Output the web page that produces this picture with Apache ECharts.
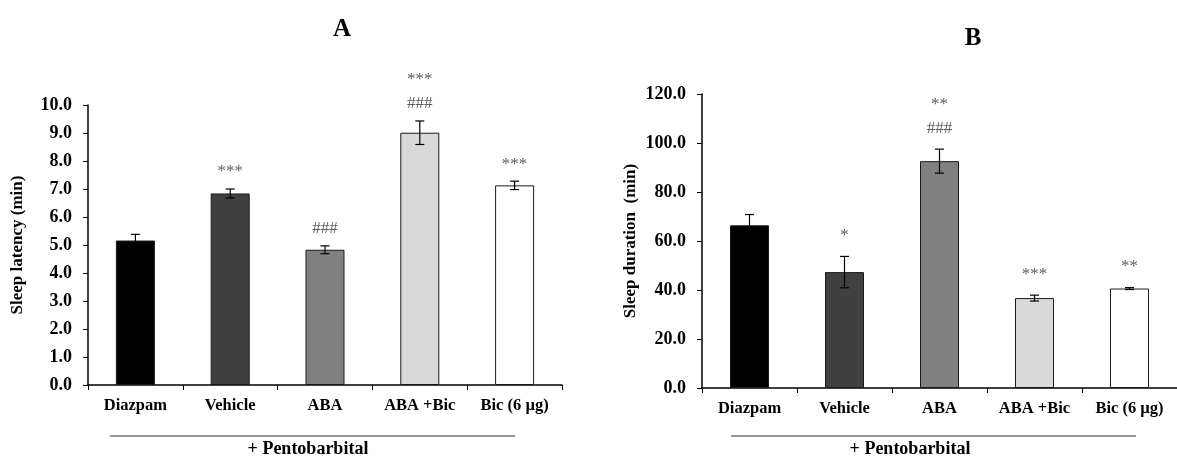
<!DOCTYPE html>
<html><head><meta charset="utf-8">
<script src="https://cdn.jsdelivr.net/npm/echarts@6/dist/echarts.min.js"></script>
<style>html,body{margin:0;padding:0;background:#fff}#c{width:1177px;height:460px}</style>
</head><body><div id="c"></div>
<script>
const categories = ['Diazpam', 'Vehicle', 'ABA', 'ABA +Bic', 'Bic (6 \u00b5g)'];
const latency = [5.16, 6.84, 4.83, 9.01, 7.13];
const latencyErr = [0.22, 0.16, 0.14, 0.42, 0.15];
const latencySig = ['', '***', '###', '***\n###', '***'];
const duration = [66.4, 47.3, 92.6, 36.7, 40.6];
const durationErr = [4.4, 6.4, 4.9, 1.2, 0.4];
const durationSig = ['', '*', '**\n###', '***', '**'];
const barColors = ['#000000', '#404040', '#808080', '#d9d9d9', '#ffffff'];
const panelTitles = ['A', 'B'];
const yNames = ['Sleep latency (min)', 'Sleep duration  (min)'];
const groupLabel = '+ Pentobarbital';

const FONT = '"Liberation Serif", "Times New Roman", serif';
const chart = echarts.init(document.getElementById('c'));

function barSeries(vals, idx) {
  return {
    type: 'bar', xAxisIndex: idx, yAxisIndex: idx, barWidth: 39,
    data: vals.map((v, i) => ({ value: v, itemStyle: { color: barColors[i] } })),
    itemStyle: { borderColor: '#1a1a1a', borderWidth: 1 },
    silent: true, z: 2
  };
}
function errSeries(vals, errs, idx) {
  return {
    type: 'custom', xAxisIndex: idx, yAxisIndex: idx, z: 5, silent: true,
    data: vals.map((v, i) => [i, v - errs[i], v + errs[i]]),
    renderItem: function (params, api) {
      const hi = api.coord([api.value(0), api.value(2)]);
      const lo = api.coord([api.value(0), api.value(1)]);
      const w = 4.5;
      const st = { stroke: '#000', lineWidth: 1.2 };
      return { type: 'group', children: [
        { type: 'line', shape: { x1: hi[0], y1: hi[1], x2: lo[0], y2: lo[1] }, style: st },
        { type: 'line', shape: { x1: hi[0] - w, y1: hi[1], x2: hi[0] + w, y2: hi[1] }, style: st },
        { type: 'line', shape: { x1: lo[0] - w, y1: lo[1], x2: lo[0] + w, y2: lo[1] }, style: st }
      ] };
    }
  };
}
function sigSeries(vals, errs, sigs, idx, dist) {
  return {
    type: 'scatter', xAxisIndex: idx, yAxisIndex: idx, symbolSize: 0, silent: true, z: 6,
    data: vals.map((v, i) => ({ value: [i, v + errs[i]], label: { formatter: sigs[i] } })),
    label: { show: true, position: 'top', distance: dist, fontFamily: FONT, fontSize: 17,
      color: '#333', lineHeight: 24 }
  };
}
function xAx(idx) {
  return {
    type: 'category', gridIndex: idx, data: categories,
    axisLine: { lineStyle: { color: '#000', width: 1.5 } },
    axisTick: { show: true, length: 5, interval: 0, lineStyle: { color: '#000' } },
    axisLabel: { interval: 0, fontFamily: FONT, fontWeight: 'bold', fontSize: 16.5, color: '#000', margin: 12 }
  };
}
function yAx(idx, max, interval, gap) {
  return {
    type: 'value', gridIndex: idx, min: 0, max: max, interval: interval,
    name: yNames[idx], nameLocation: 'middle', nameGap: gap, nameRotate: 90,
    nameTextStyle: { fontFamily: FONT, fontWeight: 'bold', fontSize: 17, color: '#000' },
    axisLine: { show: true, lineStyle: { color: '#000', width: 1.5 } },
    axisTick: { show: true, length: 5, lineStyle: { color: '#000' } },
    splitLine: { show: false },
    axisLabel: { fontFamily: FONT, fontWeight: 'bold', fontSize: 18, color: '#000', margin: 16,
      formatter: v => v.toFixed(1) }
  };
}

chart.setOption({
  animation: false,
  backgroundColor: '#fff',
  title: [
    { text: panelTitles[0], left: 337, top: 12, textAlign: 'center',
      textStyle: { fontFamily: FONT, fontWeight: 'bold', fontSize: 25, color: '#000' } },
    { text: panelTitles[1], left: 968, top: 21, textAlign: 'center',
      textStyle: { fontFamily: FONT, fontWeight: 'bold', fontSize: 25, color: '#000' } }
  ],
  grid: [
    { left: 88, top: 105, width: 474, bottom: 75 },
    { left: 702, top: 94, width: 475, bottom: 72 }
  ],
  xAxis: [xAx(0), xAx(1)],
  yAxis: [yAx(0, 10, 1, 62), yAx(1, 120, 20, 63)],
  series: [
    barSeries(latency, 0), errSeries(latency, latencyErr, 0), sigSeries(latency, latencyErr, latencySig, 0, 5),
    barSeries(duration, 1), errSeries(duration, durationErr, 1), sigSeries(duration, durationErr, durationSig, 1, 9)
  ],
  graphic: [
    { type: 'line', shape: { x1: 110, y1: 436, x2: 515, y2: 436 }, style: { stroke: '#333', lineWidth: 1.2 } },
    { type: 'line', shape: { x1: 731, y1: 436, x2: 1136, y2: 436 }, style: { stroke: '#333', lineWidth: 1.2 } },
    { type: 'text', x: 308, y: 449, style: { text: groupLabel, x: 0, y: 0, textAlign: 'center', textVerticalAlign: 'middle',
      font: 'bold 18px "Liberation Serif", serif', fill: '#000' } },
    { type: 'text', x: 910, y: 449, style: { text: groupLabel, x: 0, y: 0, textAlign: 'center', textVerticalAlign: 'middle',
      font: 'bold 18px "Liberation Serif", serif', fill: '#000' } }
  ]
});
</script>
</body></html>
